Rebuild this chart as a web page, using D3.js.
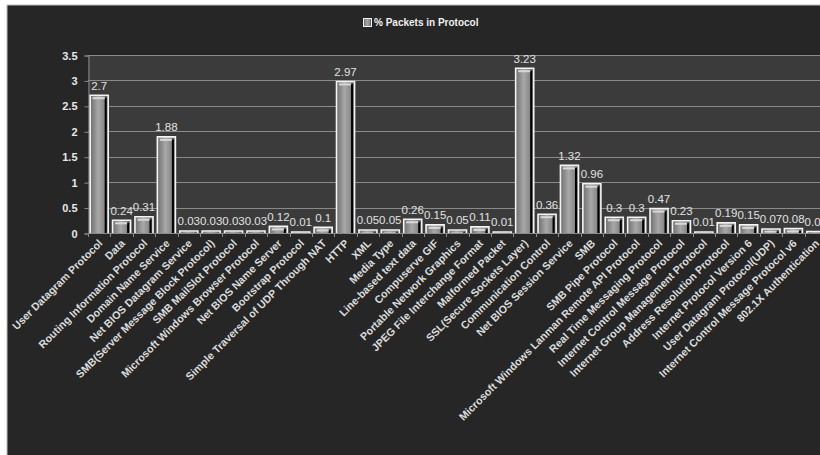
<!DOCTYPE html>
<html><head><meta charset="utf-8">
<script src="https://cdn.jsdelivr.net/npm/d3@7"></script>
<style>
html,body{margin:0;padding:0;background:#fff;}
svg{display:block;}
</style></head>
<body>
<svg id="chart" width="820" height="455"></svg>
<script>
const categories = [
 "User Datagram Protocol","Data","Routing Information Protocol","Domain Name Service",
 "Net BIOS Datagram Service","SMB(Server Message Block Protocol)","SMB MailSlot Protocol",
 "Microsoft Windows Browser Protocol","Net BIOS Name Server","Bootstrap Protocol",
 "Simple Traversal of UDP Through NAT","HTTP","XML","Media Type","Line-based text data",
 "Compuserve GIF","Portable Network Graphics","JPEG File Interchange Format","Malformed Packet",
 "SSL(Secure Sockets Layer)","Communication Control","Net BIOS Session Service","SMB",
 "SMB Pipe Protocol","Microsoft Windows Lanman Remote API Protocol","Real Time Messaging Protocol",
 "Internet Control Message Protocol","Internet Group Management Protocol","Address Resolution Protocol",
 "Internet Protocol Version 6","User Datagram Protocol(UDP)","Internet Control Message Protocol v6",
 "802.1X Authentication"
];
const values = [2.7,0.24,0.31,1.88,0.03,0.03,0.03,0.03,0.12,0.01,0.1,2.97,0.05,0.05,0.26,0.15,0.05,0.11,0.01,3.23,0.36,1.32,0.96,0.3,0.3,0.47,0.23,0.01,0.19,0.15,0.07,0.08,0.02];
const yTicks = [0,0.5,1,1.5,2,2.5,3,3.5];
const seriesName = "% Packets in Protocol";

const svg = d3.select("#chart");
const font = "'Liberation Sans',Arial,sans-serif";

// outer chart frame
svg.append("rect").attr("x",7).attr("y",5).attr("width",830).attr("height",460)
  .attr("fill","#262626").attr("stroke","#bdbdbd").attr("stroke-width",1);

const plot = {left:88, right:827, top:55, bottom:233};
const x = d3.scaleBand().domain(categories).range([plot.left, plot.right]).paddingInner(0.15).paddingOuter(0.075);
const y = d3.scaleLinear().domain([0,3.5]).range([plot.bottom, plot.top]);

// plot area
svg.append("rect").attr("x",plot.left).attr("y",plot.top)
  .attr("width",plot.right-plot.left).attr("height",plot.bottom-plot.top).attr("fill","#3b3b3b");

// gridlines
svg.append("g").selectAll("line").data(yTicks.filter(d=>d>0)).join("line")
  .attr("x1",plot.left).attr("x2",plot.right)
  .attr("y1",d=>Math.round(y(d))+0.5).attr("y2",d=>Math.round(y(d))+0.5)
  .attr("stroke","#8a8a8a").attr("stroke-width",1);

// y axis
const yAxis = d3.axisLeft(y).tickValues(yTicks).tickSize(4).tickPadding(7).tickFormat(d3.format("~g"));
const gy = svg.append("g").attr("transform",`translate(${plot.left+0.5},0.5)`).call(yAxis);
gy.select(".domain").attr("stroke","#8a8a8a");
gy.selectAll(".tick line").attr("stroke","#8a8a8a");
gy.selectAll(".tick text").attr("fill","#e8e8e8").attr("font-family",font)
  .attr("font-size","11px").attr("font-weight","bold");

// gradient for bars
const defs = svg.append("defs");
const grad = defs.append("linearGradient").attr("id","barGrad").attr("x1","0").attr("x2","1").attr("y1","0").attr("y2","0");
grad.append("stop").attr("offset","0%").attr("stop-color","#6a6a6a");
grad.append("stop").attr("offset","45%").attr("stop-color","#a8a8a8");
grad.append("stop").attr("offset","75%").attr("stop-color","#8a8a8a");
grad.append("stop").attr("offset","100%").attr("stop-color","#4a4a4a");

const bars = svg.append("g").selectAll("g").data(categories).join("g");
bars.append("rect")
  .attr("x",d=>x(d)).attr("y",(d,i)=>y(values[i]))
  .attr("width",x.bandwidth()).attr("height",(d,i)=>Math.max(0,y(0)-y(values[i])))
  .attr("fill","url(#barGrad)");
// dark right stripe
bars.append("rect")
  .attr("x",d=>x(d)+x.bandwidth()-4).attr("y",(d,i)=>y(values[i])+2)
  .attr("width",2).attr("height",(d,i)=>Math.max(0,y(0)-y(values[i])-2))
  .attr("fill","#000");
// white outline (left, top, right)
bars.append("path")
  .attr("d",(d,i)=>{const x0=x(d)+0.5,x1=x(d)+x.bandwidth()-0.5,yt=y(values[i])-0.5,yb=y(0);
    return `M${x0},${yb}V${yt}H${x1}V${yb}`;})
  .attr("fill","none").attr("stroke","#f4f4f4").attr("stroke-width",1.6);
// top highlight
bars.append("rect")
  .attr("x",d=>x(d)+3).attr("y",(d,i)=>y(values[i])+1.5)
  .attr("width",x.bandwidth()-7).attr("height",(d,i)=>Math.min(2,Math.max(0,y(0)-y(values[i])-2)))
  .attr("fill","#d8d8d8");

// x axis line and ticks at band boundaries
svg.append("line").attr("x1",plot.left).attr("x2",plot.right)
  .attr("y1",plot.bottom+0.5).attr("y2",plot.bottom+0.5).attr("stroke","#8a8a8a");
const step = x.step();
svg.append("g").selectAll("line").data(categories).join("line")
  .attr("x1",d=>Math.round(x(d)-step*0.075)+0.5).attr("x2",d=>Math.round(x(d)-step*0.075)+0.5)
  .attr("y1",plot.bottom).attr("y2",plot.bottom+4).attr("stroke","#8a8a8a");

// data labels
svg.append("g").selectAll("text").data(categories).join("text")
  .attr("x",d=>x(d)+x.bandwidth()/2).attr("y",(d,i)=>y(values[i])-6)
  .attr("text-anchor","middle").attr("fill","#e2e2e2")
  .attr("font-family",font).attr("font-size","11.5px")
  .text((d,i)=>d3.format("~g")(values[i]));

// category labels
svg.append("g").selectAll("text").data(categories).join("text")
  .attr("transform",d=>`translate(${x(d)+x.bandwidth()/2+4},${plot.bottom+11}) rotate(-45)`)
  .attr("text-anchor","end").attr("fill","#dcdcdc")
  .attr("font-family",font).attr("font-size","10.7px").attr("font-weight","bold")
  .text(d=>d);

// legend/title
const lg = svg.append("g").attr("transform","translate(363,18)");
lg.append("rect").attr("x",0.5).attr("y",0.5).attr("width",8).attr("height",8)
  .attr("fill","url(#barGrad)").attr("stroke","#f0f0f0").attr("stroke-width",1);
lg.append("text").attr("x",11).attr("y",8).attr("fill","#f0f0f0")
  .attr("font-family",font).attr("font-size","10px").attr("font-weight","bold").text(seriesName);
</script>
</body></html>
